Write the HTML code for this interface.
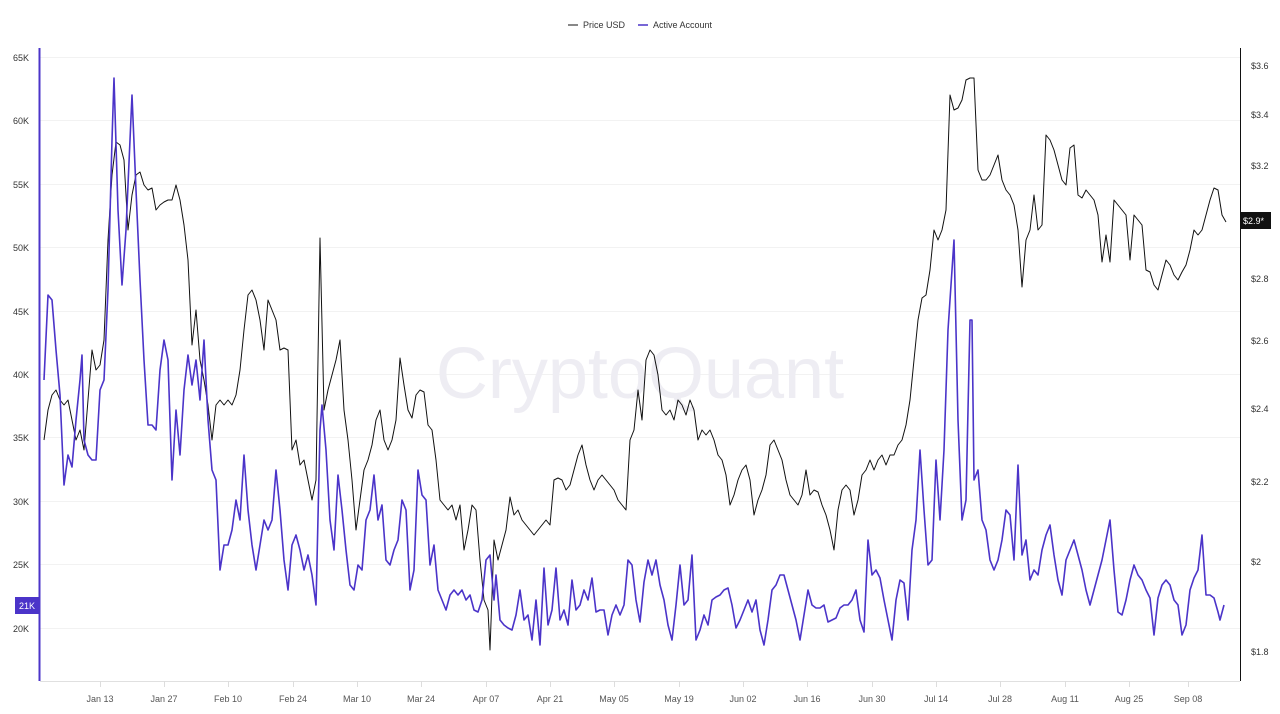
<!DOCTYPE html>
<html><head><meta charset="utf-8"><style>
body{margin:0;background:#fff;width:1280px;height:709px;overflow:hidden;font-family:"Liberation Sans",sans-serif;}
svg text{font-family:"Liberation Sans",sans-serif;}
</style></head><body>
<svg width="1280" height="709" viewBox="0 0 1280 709" xmlns="http://www.w3.org/2000/svg">
<g stroke="#f2f2f2" stroke-width="1">
<line x1="40" x2="1240" y1="57.5" y2="57.5"/><line x1="40" x2="1240" y1="120.5" y2="120.5"/><line x1="40" x2="1240" y1="184.5" y2="184.5"/><line x1="40" x2="1240" y1="247.5" y2="247.5"/><line x1="40" x2="1240" y1="311.5" y2="311.5"/><line x1="40" x2="1240" y1="374.5" y2="374.5"/><line x1="40" x2="1240" y1="437.5" y2="437.5"/><line x1="40" x2="1240" y1="501.5" y2="501.5"/><line x1="40" x2="1240" y1="564.5" y2="564.5"/><line x1="40" x2="1240" y1="628.5" y2="628.5"/>
</g>
<text x="640" y="398" text-anchor="middle" font-size="72" fill="#eeedf3">CryptoQuant</text>
<line x1="40" x2="1240" y1="681.5" y2="681.5" stroke="#e0e0e0"/>
<g stroke="#ddd"><line x1="100.5" x2="100.5" y1="681" y2="687"/><line x1="164.5" x2="164.5" y1="681" y2="687"/><line x1="228.5" x2="228.5" y1="681" y2="687"/><line x1="293.5" x2="293.5" y1="681" y2="687"/><line x1="357.5" x2="357.5" y1="681" y2="687"/><line x1="421.5" x2="421.5" y1="681" y2="687"/><line x1="486.5" x2="486.5" y1="681" y2="687"/><line x1="550.5" x2="550.5" y1="681" y2="687"/><line x1="614.5" x2="614.5" y1="681" y2="687"/><line x1="679.5" x2="679.5" y1="681" y2="687"/><line x1="743.5" x2="743.5" y1="681" y2="687"/><line x1="807.5" x2="807.5" y1="681" y2="687"/><line x1="872.5" x2="872.5" y1="681" y2="687"/><line x1="936.5" x2="936.5" y1="681" y2="687"/><line x1="1000.5" x2="1000.5" y1="681" y2="687"/><line x1="1065.5" x2="1065.5" y1="681" y2="687"/><line x1="1129.5" x2="1129.5" y1="681" y2="687"/><line x1="1188.5" x2="1188.5" y1="681" y2="687"/></g>
<g font-size="9" fill="#555" text-anchor="middle">
<text x="100" y="702">Jan 13</text><text x="164" y="702">Jan 27</text><text x="228" y="702">Feb 10</text><text x="293" y="702">Feb 24</text><text x="357" y="702">Mar 10</text><text x="421" y="702">Mar 24</text><text x="486" y="702">Apr 07</text><text x="550" y="702">Apr 21</text><text x="614" y="702">May 05</text><text x="679" y="702">May 19</text><text x="743" y="702">Jun 02</text><text x="807" y="702">Jun 16</text><text x="872" y="702">Jun 30</text><text x="936" y="702">Jul 14</text><text x="1000" y="702">Jul 28</text><text x="1065" y="702">Aug 11</text><text x="1129" y="702">Aug 25</text><text x="1188" y="702">Sep 08</text>
</g>
<g font-size="9" fill="#333" text-anchor="end">
<text x="29" y="61">65K</text><text x="29" y="124">60K</text><text x="29" y="188">55K</text><text x="29" y="251">50K</text><text x="29" y="315">45K</text><text x="29" y="378">40K</text><text x="29" y="441">35K</text><text x="29" y="505">30K</text><text x="29" y="568">25K</text><text x="29" y="632">20K</text>
</g>
<g font-size="9" fill="#333">
<text x="1251" y="69">$3.6</text><text x="1251" y="118">$3.4</text><text x="1251" y="169">$3.2</text><text x="1251" y="282">$2.8</text><text x="1251" y="344">$2.6</text><text x="1251" y="412">$2.4</text><text x="1251" y="485">$2.2</text><text x="1251" y="565">$2</text><text x="1251" y="655">$1.8</text>
</g>
<line x1="39.5" x2="39.5" y1="48" y2="681" stroke="#4b34c9" stroke-width="2"/>
<line x1="1240.5" x2="1240.5" y1="48" y2="681" stroke="#111" stroke-width="1"/>
<polyline fill="none" stroke="#111" stroke-width="1" stroke-linejoin="round" points="44,440 48,410 52,395 56,390 60,400 64,405 68,400 72,420 76,440 80,430 84,450 88,400 92,350 96,370 100,365 104,340 108,240 112,175 116,142 120,145 124,160 128,230 132,195 136,175 140,172 144,185 148,190 152,188 156,210 160,205 164,202 168,200 172,200 176,185 180,200 184,225 188,260 192,345 196,310 200,360 204,380 208,405 212,440 216,405 220,400 224,405 228,400 232,405 236,395 240,370 244,330 248,295 252,290 256,300 260,320 264,350 268,300 272,310 276,320 280,350 284,348 288,350 292,450 296,440 300,465 304,460 308,480 312,500 316,480 320,238 324,410 328,390 332,375 336,360 340,340 344,410 348,440 352,480 356,530 360,500 364,470 368,460 372,445 376,420 380,410 384,440 388,450 392,440 396,420 400,358 404,385 408,410 412,418 416,395 420,390 424,392 428,425 432,430 436,460 440,500 444,505 448,510 452,505 456,520 460,505 464,550 468,530 472,505 476,510 480,560 484,600 488,610 490,650 494,540 498,560 502,545 506,530 510,497 514,515 518,510 522,520 526,525 530,530 534,535 538,530 542,525 546,520 550,525 554,480 558,478 562,480 566,490 570,485 574,470 578,455 582,445 586,465 590,480 594,490 598,480 602,475 606,480 610,485 614,490 618,500 622,505 626,510 630,440 634,430 638,390 642,420 646,360 650,350 654,355 658,375 662,410 666,415 670,410 674,420 678,400 682,405 686,415 690,400 694,410 698,440 702,430 706,435 710,430 714,440 718,455 722,460 726,475 730,505 734,495 738,480 742,470 746,465 750,480 754,515 758,500 762,490 766,475 770,445 774,440 778,450 782,460 786,480 790,495 794,500 798,505 802,495 806,470 810,495 814,490 818,492 822,505 826,515 830,530 834,550 838,510 842,490 846,485 850,490 854,515 858,500 862,475 866,470 870,460 874,470 878,460 882,455 886,465 890,455 894,455 898,445 902,440 906,425 910,400 914,360 918,320 922,298 926,295 930,270 934,230 938,240 942,230 946,210 950,95 954,110 958,108 962,100 966,80 970,78 974,78 978,170 982,180 986,180 990,175 994,165 998,155 1002,180 1006,190 1010,195 1014,205 1018,230 1022,287 1026,240 1030,230 1034,195 1038,230 1042,225 1046,135 1050,140 1054,150 1058,165 1062,180 1066,185 1070,148 1074,145 1078,195 1082,198 1086,190 1090,195 1094,200 1098,215 1102,262 1106,235 1110,262 1114,200 1118,205 1122,210 1126,215 1130,260 1134,215 1138,220 1142,225 1146,270 1150,272 1154,285 1158,290 1162,275 1166,260 1170,265 1174,275 1178,280 1182,272 1186,265 1190,250 1194,230 1198,235 1202,230 1206,215 1210,200 1214,188 1218,190 1222,215 1226,222"/>
<polyline fill="none" stroke="#4b34c9" stroke-width="1.6" stroke-linejoin="round" points="44,380 48,295 52,300 56,350 60,395 64,485 68,455 72,467 76,420 80,380 82,355 84,440 88,455 92,460 96,460 100,390 104,380 108,290 112,140 114,78 118,210 122,285 126,230 130,140 132,95 136,190 140,280 144,360 148,425 152,425 156,430 160,370 164,340 168,360 172,480 176,410 180,455 184,390 188,355 192,385 196,360 200,400 204,340 208,420 212,470 216,480 220,570 224,545 228,545 232,530 236,500 240,520 244,455 248,510 252,545 256,570 260,545 264,520 268,530 272,520 276,470 280,510 284,560 288,590 292,545 296,535 300,550 304,570 308,555 312,575 316,605 320,430 322,405 326,450 330,520 334,550 338,475 342,510 346,550 350,585 354,590 358,565 362,570 366,520 370,510 374,475 378,520 382,505 386,560 390,565 394,550 398,540 402,500 406,510 410,590 414,570 418,470 422,495 426,500 430,565 434,545 438,590 442,600 446,610 450,595 454,590 458,595 462,590 466,600 470,595 474,610 478,612 482,600 486,560 490,555 494,600 496,575 500,620 504,625 508,628 512,630 516,615 520,590 524,620 528,615 532,640 536,600 540,645 544,568 548,625 552,610 556,568 560,620 564,610 568,625 572,580 576,610 580,605 584,590 588,600 592,578 596,612 600,610 604,610 608,635 612,615 616,605 620,615 624,605 628,560 632,565 636,600 640,622 644,582 648,560 652,575 656,560 660,585 664,600 668,625 672,640 676,605 680,565 684,605 688,600 692,555 696,640 700,630 704,615 708,625 712,600 716,597 720,595 724,590 728,588 732,605 736,628 740,620 744,610 748,600 752,612 756,600 760,630 764,645 768,620 772,590 776,585 780,575 784,575 788,590 792,605 796,620 800,640 804,615 808,590 812,605 816,608 820,608 824,605 828,622 832,620 836,618 840,608 844,605 848,605 852,600 856,590 860,620 864,632 868,540 872,575 876,570 880,578 884,600 888,620 892,640 896,600 900,580 904,583 908,620 912,550 916,520 920,450 924,510 928,565 932,560 936,460 940,520 944,450 948,330 954,240 958,420 962,520 966,500 970,320 972,320 974,480 978,470 982,520 986,530 990,560 994,570 998,560 1002,540 1006,510 1010,515 1014,560 1018,465 1022,555 1026,540 1030,580 1034,570 1038,575 1042,550 1046,535 1050,525 1054,555 1058,580 1062,595 1066,560 1070,550 1074,540 1078,555 1082,570 1086,590 1090,605 1094,590 1098,575 1102,560 1106,540 1110,520 1114,570 1118,612 1122,615 1126,600 1130,580 1134,565 1138,575 1142,580 1146,590 1150,598 1154,635 1158,598 1162,585 1166,580 1170,585 1174,600 1178,605 1182,635 1186,625 1190,590 1194,578 1198,570 1202,535 1206,595 1210,595 1214,598 1218,612 1220,620 1224,605"/>
<rect x="15" y="597" width="24" height="17" fill="#4b34c9"/>
<text x="27" y="609" font-size="9" fill="#fff" text-anchor="middle">21K</text>
<rect x="1241" y="212" width="30" height="17" fill="#111"/>
<text x="1243" y="224" font-size="9" fill="#fff">$2.9*</text>
<line x1="568" x2="578" y1="25" y2="25" stroke="#111"/>
<text x="583" y="28" font-size="9" fill="#333">Price USD</text>
<line x1="638" x2="648" y1="25" y2="25" stroke="#4b34c9" stroke-width="1.5"/>
<text x="653" y="28" font-size="9" fill="#333">Active Account</text>
</svg>
</body></html>
